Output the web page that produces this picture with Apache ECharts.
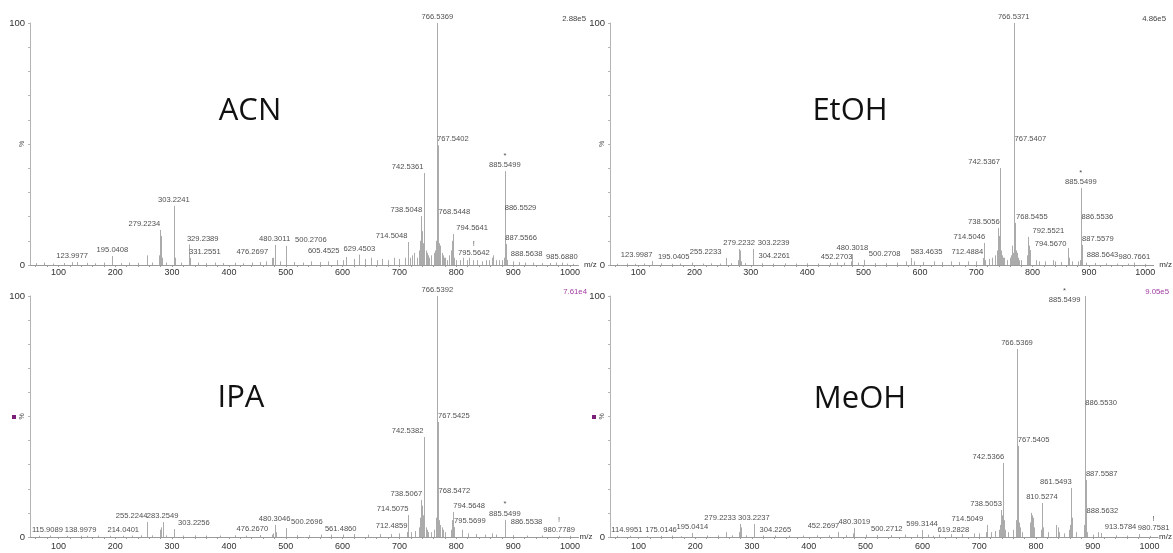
<!DOCTYPE html>
<html>
<head>
<meta charset="utf-8">
<script src="https://cdn.jsdelivr.net/npm/echarts@6/dist/echarts.min.js"></script>
<style>
  html, body { margin: 0; padding: 0; background: #fff; }
  #chart { width: 1173px; height: 553px; }
</style>
</head>
<body>
<div id="chart"></div>
<script>
// m/z axis range and tick positions
const mzMin = 50;
const mzMax = 1015;
const mzTickLabels = [100, 200, 300, 400, 500, 600, 700, 800, 900, 1000];
const mzMinorTicks = [60, 80, 100, 120, 140, 160, 180, 200, 220, 240, 260, 280, 300, 320, 340, 360, 380, 400,
  420, 440, 460, 480, 500, 520, 540, 560, 580, 600, 620, 640, 660, 680, 700, 720, 740, 760, 780, 800,
  820, 840, 860, 880, 900, 920, 940, 960, 980, 1000];
const pctTicks = [0, 10, 20, 30, 40, 50, 60, 70, 80, 90, 100];
const pctLabels = [0, 100];

// ---- ACN: labelled peaks [m/z, relative intensity %] ----
const acnPeaks = [
  [123.9977, 1.2], [195.0408, 3.7], [279.2234, 14.5], [303.2241, 24.4], [329.2389, 8.5], [331.2551, 2.9],
  [476.2697, 2.9], [480.3011, 8.3], [500.2706, 7.9], [605.4525, 3.3], [629.4503, 4.3], [714.5048, 9.5],
  [738.5048, 20.2], [742.5361, 38.0], [766.5369, 100], [767.5402, 49.5], [768.5448, 19.4], [794.5641, 12.8],
  [795.5642, 2.5], [885.5499, 38.8], [886.5529, 21.1], [887.5566, 8.7], [888.5638, 2.1], [985.6880, 1.0]
];
// ACN: unlabelled peaks
const acnMinor = [
  [60, 0.8], [75, 1.0], [90, 0.6], [110, 0.8], [132, 1.2], [150, 0.9], [165, 0.7], [180, 1.0], [210, 0.8],
  [225, 1.0], [240, 0.9], [255, 4.0], [265, 1.0], [277, 4.0], [281, 12.0], [282, 3.0], [290, 1.0], [305, 3.0],
  [315, 1.0], [345, 1.0], [360, 0.8], [375, 1.0], [390, 0.8], [410, 0.9], [425, 0.7], [440, 1.0], [455, 1.2],
  [465, 1.5], [478, 3.0], [490, 1.5], [515, 1.2], [530, 1.0], [545, 1.5], [560, 1.2], [575, 1.5], [590, 2.0],
  [600, 2.0], [620, 2.5], [640, 2.5], [650, 3.0], [660, 2.0], [670, 2.5], [680, 2.0], [690, 3.0], [700, 2.5],
  [710, 3.0], [718, 3.0], [722, 4.0], [726, 5.0], [730, 3.0], [734, 6.0], [736, 10.0], [737, 8.0], [740, 14.0],
  [741, 9.0], [743, 12.0], [744, 8.0], [746, 6.0], [748, 5.0], [750, 4.0], [752, 3.0], [756, 4.0], [760, 5.0],
  [762, 6.0], [764, 10.0], [765, 7.0], [770, 9.0], [771, 6.0], [772, 8.0], [774, 5.0], [776, 4.0], [778, 3.0],
  [780, 3.0], [784, 2.0], [788, 4.0], [790, 6.0], [793, 10.0], [796, 3.0], [800, 2.0], [806, 2.0], [812, 3.0],
  [818, 2.0], [822, 3.0], [830, 2.0], [836, 2.0], [846, 1.5], [852, 2.0], [858, 2.0], [862, 3.0], [864, 4.0],
  [870, 2.0], [876, 2.0], [880, 2.0], [884, 3.0], [890, 2.0], [900, 1.5], [910, 1.2], [920, 1.0], [935, 1.0],
  [950, 0.8], [965, 0.8], [975, 1.0], [995, 0.6], [1005, 0.5]
];
const acnFlags = { '885.5499': '*', '795.5642': '!' };

// ---- EtOH ----
const etohPeaks = [
  [123.9987, 1.6], [195.0405, 1.0], [255.2233, 2.9], [279.2232, 6.6], [303.2239, 6.6], [304.2261, 1.2],
  [452.2703, 1.0], [480.3018, 4.5], [500.2708, 2.1], [583.4635, 2.9], [712.4884, 2.9], [714.5046, 9.1],
  [738.5056, 15.3], [742.5367, 40.1], [766.5371, 100], [767.5407, 49.6], [768.5455, 17.4], [792.5521, 11.6],
  [794.5670, 6.2], [885.5499, 31.8], [886.5536, 17.4], [887.5579, 8.3], [888.5643, 1.6], [980.7661, 1.0]
];
const etohMinor = [
  [62, 0.5], [80, 0.6], [95, 0.5], [110, 0.6], [140, 0.7], [160, 0.5], [175, 0.6], [215, 0.6], [230, 0.7],
  [245, 0.6], [265, 0.8], [277, 2.0], [281, 6.0], [282, 1.5], [290, 0.8], [320, 0.7], [340, 0.6], [360, 0.7],
  [380, 0.6], [400, 0.7], [420, 0.6], [440, 0.8], [465, 1.0], [478, 1.5], [490, 1.0], [520, 0.8], [540, 0.8],
  [560, 1.0], [575, 1.5], [590, 1.5], [605, 1.2], [625, 1.5], [640, 1.2], [655, 1.5], [670, 1.2], [685, 1.5],
  [700, 1.5], [716, 2.0], [722, 2.5], [728, 3.0], [734, 4.0], [736, 6.0], [737, 5.0], [740, 12.0], [741, 8.0],
  [743, 10.0], [744, 6.0], [746, 4.0], [748, 3.0], [750, 3.0], [755, 2.0], [760, 3.0], [762, 4.0], [764, 8.0],
  [765, 5.0], [770, 6.0], [772, 5.0], [774, 3.0], [776, 2.0], [780, 2.0], [790, 4.0], [793, 8.0], [796, 2.0],
  [806, 2.0], [812, 1.5], [822, 1.5], [836, 2.0], [840, 1.5], [850, 1.2], [862, 7.0], [864, 3.0], [870, 1.5],
  [880, 1.5], [884, 2.0], [895, 1.0], [910, 0.8], [930, 0.7], [950, 0.6], [970, 0.6], [1000, 0.5]
];
const etohFlags = { '885.5499': '*' };

// ---- IPA ----
const ipaPeaks = [
  [115.9089, 0.5], [138.9979, 0.5], [214.0401, 0.5], [255.2244, 6.2], [283.2549, 6.2], [303.2256, 3.3],
  [476.2670, 1.0], [480.3046, 5.0], [500.2696, 3.7], [561.4860, 1.0], [712.4859, 2.1], [714.5075, 9.1],
  [738.5067, 15.4], [742.5382, 41.5], [766.5392, 100], [767.5425, 47.7], [768.5472, 16.6], [794.5648, 10.4],
  [795.5699, 4.1], [885.5499, 7.1], [886.5538, 3.7], [980.7789, 0.5]
];
const ipaMinor = [
  [65, 0.5], [85, 0.6], [150, 0.5], [170, 0.6], [190, 0.5], [230, 0.6], [245, 0.7], [265, 0.7], [279, 3.0],
  [281, 4.0], [290, 0.7], [320, 0.6], [340, 0.7], [360, 0.6], [385, 0.6], [410, 0.7], [430, 0.6], [455, 0.8],
  [478, 1.5], [482, 2.0], [520, 0.8], [540, 0.8], [580, 1.0], [600, 1.0], [620, 1.2], [645, 1.0], [665, 1.2],
  [685, 1.2], [700, 1.5], [720, 2.0], [728, 2.5], [734, 4.0], [736, 8.0], [737, 6.0], [740, 13.0], [741, 9.0],
  [743, 10.0], [744, 7.0], [746, 4.0], [748, 3.0], [750, 2.0], [756, 2.0], [760, 3.0], [764, 8.0], [765, 6.0],
  [770, 7.0], [772, 5.0], [774, 4.0], [776, 3.0], [780, 2.0], [790, 3.0], [793, 7.0], [796, 2.0], [810, 3.0],
  [820, 1.5], [835, 1.2], [850, 1.0], [862, 1.5], [870, 1.0], [900, 0.8], [925, 0.6], [950, 0.6], [1000, 0.5]
];
const ipaFlags = { '885.5499': '*', '980.7789': '!' };

// ---- MeOH ----
const meohPeaks = [
  [114.9951, 0.3], [175.0146, 0.3], [195.0414, 1.7], [279.2233, 5.4], [303.2237, 5.4], [304.2265, 0.5],
  [452.2697, 2.1], [480.3019, 3.7], [500.2712, 1.0], [599.3144, 2.9], [619.2828, 0.5], [714.5049, 5.0],
  [738.5053, 11.2], [742.5366, 30.7], [766.5369, 78], [767.5405, 37.8], [810.5274, 14.1], [861.5493, 20.3],
  [885.5499, 100], [886.5530, 53.1], [887.5587, 23.7], [888.5632, 8.3], [913.5784, 1.7], [980.7581, 1.2]
];
const meohMinor = [
  [62, 0.5], [85, 0.5], [140, 0.5], [160, 0.6], [220, 0.6], [240, 0.7], [255, 2.0], [265, 0.7], [277, 2.0],
  [281, 4.0], [290, 0.7], [320, 0.6], [340, 0.6], [365, 0.6], [390, 0.6], [415, 0.7], [435, 0.7], [465, 0.8],
  [478, 1.5], [520, 0.8], [545, 0.8], [570, 1.0], [590, 1.0], [610, 1.0], [630, 1.0], [650, 1.2], [670, 1.2],
  [690, 1.5], [700, 1.5], [712, 2.0], [720, 2.0], [728, 2.5], [734, 3.0], [736, 5.0], [740, 9.0], [741, 6.0],
  [743, 7.0], [744, 5.0], [746, 3.0], [750, 2.0], [760, 3.0], [764, 7.0], [768, 14.0], [770, 6.0], [772, 4.0],
  [776, 2.0], [790, 6.0], [792, 10.0], [793, 9.0], [794, 8.0], [796, 4.0], [808, 3.0], [812, 4.0], [822, 2.0],
  [836, 5.0], [838, 4.0], [840, 2.0], [850, 1.5], [858, 3.0], [860, 5.0], [862, 8.0], [863, 8.0], [864, 4.0],
  [870, 2.0], [884, 5.0], [890, 2.0], [900, 1.0], [910, 2.0], [915, 1.0], [940, 0.7], [960, 0.6], [1000, 0.5]
];
const meohFlags = { '885.5499': '*', '980.7581': '!' };

// Horizontal/vertical nudges (px) for labels that sit beside their peak
const acnLabelShift = {
  '279.2234': [-16, 0], '329.2389': [14, 0], '331.2551': [15, 0], '476.2697': [-20, 0], '500.2706': [25, 0],
  '605.4525': [-22, 0], '714.5048': [-16, 0], '738.5048': [-15, 0], '742.5361': [-16, 0], '767.5402': [15, 0],
  '768.5448': [16, 0], '794.5641': [19, 0], '795.5642': [20, 0], '886.5529': [15, 0], '887.5566': [15, 0],
  '888.5638': [20, 0]
};
const etohLabelShift = {
  '123.9987': [-15, 0], '195.0405': [-18, 0], '255.2233': [-20, 0], '303.2239': [21, 0], '304.2261': [21, 0],
  '500.2708': [21, 0], '583.4635': [16, 0], '712.4884': [-16, 0], '714.5046': [-15, 0], '738.5056': [-14, 0],
  '742.5367': [-16, 0], '767.5407': [16, 0], '768.5455': [17, 0], '792.5521': [20, 0], '794.5670': [21, 0],
  '886.5536': [16, 0], '887.5579': [16, 0], '888.5643': [20, 0]
};
const ipaLabelShift = {
  '115.9089': [-20, 0], '255.2244': [-15, 0], '303.2256': [20, 0], '476.2670': [-20, 0], '500.2696': [21, 0],
  '561.4860': [20, 0], '712.4859': [-15, 0], '714.5075': [-15, 0], '738.5067': [-15, 0], '742.5382': [-16, 0],
  '767.5425': [16, 0], '768.5472': [16, 0], '794.5648': [16, 0], '795.5699': [16, 0], '886.5538': [21, 0]
};
const meohLabelShift = {
  '114.9951': [-20, 0], '175.0146': [-20, 0], '279.2233': [-20, 0], '304.2265': [21, 0], '452.2697': [-15, 0],
  '500.2712': [21, 0], '619.2828': [20, 0], '714.5049': [-20, 0], '738.5053': [-15, 0], '742.5366': [-15, 0],
  '767.5405': [16, 0], '861.5493': [-15, 0], '885.5499': [-20, 10], '886.5530': [16, 0], '887.5587': [16, 0],
  '888.5632': [16, 0], '913.5784': [20, 0], '980.7581': [15, 0]
};

// Panel layout
const panels = [
  { title: 'ACN',  peaks: acnPeaks,  minor: acnMinor,  flags: acnFlags,  shift: acnLabelShift,
    scale: '2.88e5', scaleColor: '#444', marker: false,
    grid: { left: 30, top: 23, height: 242 }, titlePos: [250, 111], scalePos: [586, 19], labelMargin: 3 },
  { title: 'EtOH', peaks: etohPeaks, minor: etohMinor, flags: etohFlags, shift: etohLabelShift,
    scale: '4.86e5', scaleColor: '#444', marker: false,
    grid: { left: 610, top: 23, height: 242 }, titlePos: [850, 111], scalePos: [1166, 19], labelMargin: 3 },
  { title: 'IPA',  peaks: ipaPeaks,  minor: ipaMinor,  flags: ipaFlags,  shift: ipaLabelShift,
    scale: '7.61e4', scaleColor: '#a03ca0', marker: true,
    grid: { left: 30, top: 296, height: 241 }, titlePos: [241, 398], scalePos: [587, 292], labelMargin: 5 },
  { title: 'MeOH', peaks: meohPeaks, minor: meohMinor, flags: meohFlags, shift: meohLabelShift,
    scale: '9.05e5', scaleColor: '#a03ca0', marker: true,
    grid: { left: 610, top: 296, height: 241 }, titlePos: [860, 399], scalePos: [1169, 292], labelMargin: 5 }
];

const plotWidth = 548.5;
const textFont = "'Liberation Sans', Arial, sans-serif";

function renderStick(params, api) {
  const base = api.coord([api.value(0), 0]);
  const top = api.coord([api.value(0), api.value(1)]);
  const x = Math.round(base[0]) + 0.5;
  return {
    type: 'line',
    shape: { x1: x, y1: base[1], x2: x, y2: top[1] },
    style: { stroke: '#ababab', lineWidth: 1 }
  };
}

const grids = [], xAxes = [], yAxes = [], series = [], graphics = [];

panels.forEach((p, i) => {
  grids.push({ left: p.grid.left, top: p.grid.top, width: plotWidth, height: p.grid.height });

  xAxes.push({
    type: 'value', gridIndex: i, min: mzMin, max: mzMax,
    name: 'm/z', nameLocation: 'end', nameGap: 1,
    nameTextStyle: { fontFamily: textFont, fontSize: 8, color: '#333', verticalAlign: 'middle', padding: [2, 0, 0, 0] },
    axisLine: { show: true, lineStyle: { color: '#9a9a9a', width: 1 } },
    axisTick: { show: true, customValues: mzMinorTicks, length: 2, lineStyle: { color: '#9a9a9a' } },
    axisLabel: { show: true, customValues: mzTickLabels, margin: p.labelMargin,
      formatter: v => String(v), fontFamily: textFont, fontSize: 9, color: '#333' },
    splitLine: { show: false }
  });

  yAxes.push({
    type: 'value', gridIndex: i, min: 0, max: 100,
    name: '%', nameLocation: 'middle', nameRotate: 90, nameGap: 4, nameMoveOverlap: false,
    nameTextStyle: { fontFamily: textFont, fontSize: 7, color: '#555' },
    axisLine: { show: true, lineStyle: { color: '#b4b4b4', width: 1 } },
    axisTick: { show: true, customValues: pctTicks, length: 2, lineStyle: { color: '#b4b4b4' } },
    axisLabel: { show: true, customValues: pctLabels, margin: 5,
      formatter: v => String(v), fontFamily: textFont, fontSize: 9.5, color: '#333' },
    splitLine: { show: false }
  });

  // stick spectrum: unlabelled and labelled peaks
  series.push({
    type: 'custom', xAxisIndex: i, yAxisIndex: i,
    renderItem: renderStick, encode: { x: 0, y: 1 },
    data: p.minor.concat(p.peaks), silent: true, z: 2
  });

  // peak annotations
  const keys = p.peaks.map(d => d[0].toFixed(4));
  series.push({
    type: 'scatter', xAxisIndex: i, yAxisIndex: i,
    symbolSize: 1, itemStyle: { color: 'rgba(0,0,0,0)' }, silent: true, z: 3,
    labelLayout: params => {
      const off = p.shift[keys[params.dataIndex]] || [0, 0];
      return { dx: off[0], dy: off[1], hideOverlap: false, moveOverlap: null };
    },
    data: p.peaks.map((d, k) => {
      const flag = p.flags[keys[k]];
      return {
        value: d,
        label: {
          formatter: flag ? '{f|' + flag + '}\n{v|' + keys[k] + '}' : '{v|' + keys[k] + '}'
        }
      };
    }),
    label: {
      show: true, position: 'top', distance: 1,
      fontFamily: textFont, color: '#222',
      rich: {
        v: { fontFamily: textFont, fontSize: 7.6, color: '#222', lineHeight: 9 },
        f: { fontFamily: textFont, fontSize: 7.6, color: '#222', lineHeight: 10 }
      }
    }
  });

  // solvent title
  graphics.push({
    type: 'text', x: p.titlePos[0], y: p.titlePos[1],
    style: { text: p.title, fontFamily: "'Open Sans', sans-serif", fontSize: 31, fill: '#111',
      align: 'center', verticalAlign: 'middle' }
  });
  // base-peak intensity
  graphics.push({
    type: 'text', x: p.scalePos[0], y: p.scalePos[1],
    style: { text: p.scale, fontFamily: textFont, fontSize: 7.8, fill: p.scaleColor,
      align: 'right', verticalAlign: 'middle' }
  });
  if (p.marker) {
    graphics.push({
      type: 'rect', shape: { x: p.grid.left - 18, y: 415, width: 4, height: 4 },
      style: { fill: '#7a2077' }
    });
  }
});

const chart = echarts.init(document.getElementById('chart'), null, { renderer: 'canvas' });
chart.setOption({
  animation: false,
  backgroundColor: '#ffffff',
  grid: grids,
  xAxis: xAxes,
  yAxis: yAxes,
  series: series,
  graphic: graphics
});
</script>
</body>
</html>
